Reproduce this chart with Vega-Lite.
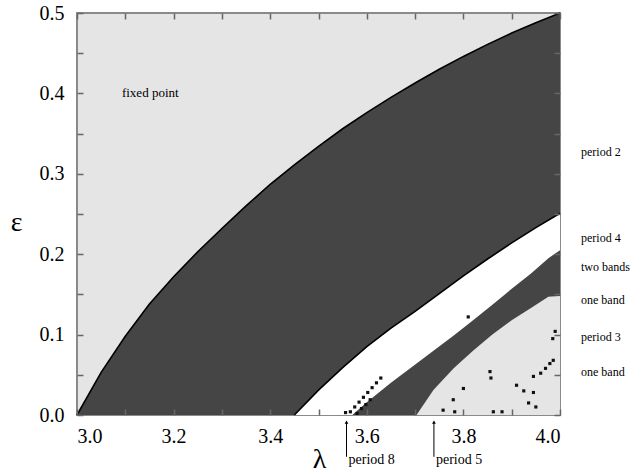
{
  "$schema": "https://vega.github.io/schema/vega-lite/v6.json",
  "width": 483,
  "height": 402,
  "autosize": "none",
  "padding": {"left": 77, "top": 13, "right": 71, "bottom": 59},
  "background": "white",
  "config": {
    "view": {"fill": "#e5e5e5", "stroke": "#8a8a8a", "strokeWidth": 2},
    "font": "Liberation Serif",
    "axis": {"labelFont": "Liberation Serif", "titleFont": "Liberation Serif", "zindex": 1}
  },
  "datasets": {
    "upper": [
      {"lam": 3.00, "eps": 0.000}, {"lam": 3.05, "eps": 0.053}, {"lam": 3.10, "eps": 0.098},
      {"lam": 3.15, "eps": 0.138}, {"lam": 3.20, "eps": 0.172}, {"lam": 3.25, "eps": 0.203},
      {"lam": 3.30, "eps": 0.232}, {"lam": 3.35, "eps": 0.260}, {"lam": 3.40, "eps": 0.287},
      {"lam": 3.45, "eps": 0.311}, {"lam": 3.50, "eps": 0.334}, {"lam": 3.55, "eps": 0.356},
      {"lam": 3.60, "eps": 0.376}, {"lam": 3.65, "eps": 0.395}, {"lam": 3.70, "eps": 0.413},
      {"lam": 3.75, "eps": 0.430}, {"lam": 3.80, "eps": 0.446}, {"lam": 3.85, "eps": 0.461},
      {"lam": 3.90, "eps": 0.475}, {"lam": 3.95, "eps": 0.488}, {"lam": 4.00, "eps": 0.500}
    ],
    "lower": [
      {"lam": 3.45, "eps": 0.000}, {"lam": 3.50, "eps": 0.031}, {"lam": 3.55, "eps": 0.059},
      {"lam": 3.60, "eps": 0.085}, {"lam": 3.65, "eps": 0.108}, {"lam": 3.70, "eps": 0.129},
      {"lam": 3.75, "eps": 0.151}, {"lam": 3.80, "eps": 0.173}, {"lam": 3.85, "eps": 0.194},
      {"lam": 3.90, "eps": 0.214}, {"lam": 3.95, "eps": 0.233}, {"lam": 4.00, "eps": 0.251}
    ],
    "band": [
      {"lam": 3.570, "lo": 0.000, "hi": 0.000}, {"lam": 3.600, "lo": 0.000, "hi": 0.016},
      {"lam": 3.650, "lo": 0.000, "hi": 0.040}, {"lam": 3.703, "lo": 0.000, "hi": 0.064},
      {"lam": 3.738, "lo": 0.031, "hi": 0.080}, {"lam": 3.780, "lo": 0.058, "hi": 0.099},
      {"lam": 3.820, "lo": 0.080, "hi": 0.118}, {"lam": 3.860, "lo": 0.100, "hi": 0.137},
      {"lam": 3.900, "lo": 0.118, "hi": 0.157}, {"lam": 3.940, "lo": 0.133, "hi": 0.176},
      {"lam": 3.976, "lo": 0.147, "hi": 0.195}, {"lam": 4.000, "lo": 0.148, "hi": 0.205}
    ],
    "dots": [
      {"lam": 3.556, "eps": 0.003}, {"lam": 3.566, "eps": 0.004}, {"lam": 3.575, "eps": 0.010},
      {"lam": 3.584, "eps": 0.016}, {"lam": 3.593, "eps": 0.022}, {"lam": 3.602, "eps": 0.028},
      {"lam": 3.611, "eps": 0.034}, {"lam": 3.620, "eps": 0.040}, {"lam": 3.629, "eps": 0.046},
      {"lam": 3.580, "eps": 0.002}, {"lam": 3.589, "eps": 0.008}, {"lam": 3.598, "eps": 0.013},
      {"lam": 3.607, "eps": 0.019},
      {"lam": 3.758, "eps": 0.006}, {"lam": 3.779, "eps": 0.019}, {"lam": 3.800, "eps": 0.033},
      {"lam": 3.782, "eps": 0.004}, {"lam": 3.855, "eps": 0.054}, {"lam": 3.857, "eps": 0.046},
      {"lam": 3.862, "eps": 0.004}, {"lam": 3.880, "eps": 0.004}, {"lam": 3.910, "eps": 0.037},
      {"lam": 3.925, "eps": 0.030}, {"lam": 3.945, "eps": 0.048}, {"lam": 3.960, "eps": 0.052},
      {"lam": 3.970, "eps": 0.058}, {"lam": 3.979, "eps": 0.064}, {"lam": 3.986, "eps": 0.068},
      {"lam": 3.945, "eps": 0.028}, {"lam": 3.935, "eps": 0.015}, {"lam": 3.950, "eps": 0.010},
      {"lam": 3.985, "eps": 0.095}, {"lam": 3.990, "eps": 0.104}, {"lam": 3.810, "eps": 0.122}
    ],
    "rightLabels": [
      {"lam": 4.0, "eps": 0.327, "text": "period 2"},
      {"lam": 4.0, "eps": 0.220, "text": "period 4"},
      {"lam": 4.0, "eps": 0.184, "text": "two bands"},
      {"lam": 4.0, "eps": 0.143, "text": "one band"},
      {"lam": 4.0, "eps": 0.097, "text": "period 3"},
      {"lam": 4.0, "eps": 0.053, "text": "one band"}
    ],
    "arrows": [
      {"lam": 3.558, "top": -0.009, "bottom": -0.052, "text": "period 8"},
      {"lam": 3.739, "top": -0.009, "bottom": -0.052, "text": "period 5"}
    ],
    "inner": [
      {"lam": 3.093, "eps": 0.400, "text": "fixed point"}
    ]
  },
  "resolve": {"axis": {"x": "independent", "y": "independent"}},
  "layer": [
    {
      "data": {"name": "upper"},
      "mark": {"type": "area", "color": "#454545"},
      "encoding": {
        "x": {"field": "lam", "type": "quantitative",
              "scale": {"domain": [3.0, 4.0], "nice": false, "zero": false},
              "axis": {
                "values": [3.0, 3.1, 3.2, 3.3, 3.4, 3.5, 3.6, 3.7, 3.8, 3.9, 4.0],
                "labelExpr": "abs(round(datum.value*5) - datum.value*5) < 0.01 ? format(datum.value, '.1f') : ''",
                "domain": false, "grid": false, "zindex": 1, "offset": -6,
                "tickColor": "#666", "tickSize": 6, "tickWidth": 1.5,
                "labelFont": "Liberation Serif", "labelFontSize": 20, "labelColor": "black",
                "labelPadding": 11,
                "title": "λ", "titleFont": "Liberation Serif", "titleFontSize": 28,
                "titleFontWeight": "normal", "titleColor": "black",
                "titleX": 242, "titleY": 58, "titleBaseline": "alphabetic", "titleAlign": "center"
              }},
        "y": {"field": "eps", "type": "quantitative",
              "scale": {"domain": [0, 0.5], "nice": false, "zero": false},
              "axis": {
                "values": [0, 0.05, 0.1, 0.15, 0.2, 0.25, 0.3, 0.35, 0.4, 0.45, 0.5],
                "labelExpr": "abs(round(datum.value*10) - datum.value*10) < 0.01 ? format(datum.value, '.1f') : ''",
                "domain": false, "grid": false, "zindex": 1, "offset": -6,
                "tickColor": "#666", "tickSize": 6, "tickWidth": 1.5,
                "labelFont": "Liberation Serif", "labelFontSize": 20, "labelColor": "black",
                "labelPadding": 13,
                "title": "ε", "titleFont": "Liberation Serif", "titleFontSize": 28,
                "titleFontWeight": "normal", "titleColor": "black", "titleAngle": 0,
                "titleX": -67, "titleY": 209, "titleBaseline": "middle", "titleAlign": "center"
              }},
        "y2": {"datum": 0}
      }
    },
    {
      "data": {"name": "lower"},
      "mark": {"type": "area", "color": "white"},
      "encoding": {
        "x": {"field": "lam", "type": "quantitative", "axis": null},
        "y": {"field": "eps", "type": "quantitative", "axis": null},
        "y2": {"datum": 0}
      }
    },
    {
      "data": {"name": "band"},
      "mark": {"type": "area", "color": "#e5e5e5"},
      "encoding": {
        "x": {"field": "lam", "type": "quantitative", "axis": null},
        "y": {"field": "lo", "type": "quantitative", "axis": null},
        "y2": {"datum": 0}
      }
    },
    {
      "data": {"name": "band"},
      "mark": {"type": "area", "color": "#454545"},
      "encoding": {
        "x": {"field": "lam", "type": "quantitative", "axis": null},
        "y": {"field": "lo", "type": "quantitative", "axis": null},
        "y2": {"field": "hi"}
      }
    },
    {
      "data": {"name": "dots"},
      "mark": {"type": "point", "shape": "square", "filled": true, "color": "#111", "size": 10, "opacity": 1},
      "encoding": {
        "x": {"field": "lam", "type": "quantitative", "axis": null},
        "y": {"field": "eps", "type": "quantitative", "axis": null}
      }
    },
    {
      "data": {"name": "upper"},
      "mark": {"type": "line", "color": "black", "strokeWidth": 1.6},
      "encoding": {
        "x": {"field": "lam", "type": "quantitative",
              "axis": {"orient": "top", "values": [3.0, 3.1, 3.2, 3.3, 3.4, 3.5, 3.6, 3.7, 3.8, 3.9, 4.0],
                       "labels": false, "domain": false, "grid": false, "title": null, "zindex": 1, "offset": -6,
                       "tickColor": "#666", "tickSize": 6, "tickWidth": 1.5}},
        "y": {"field": "eps", "type": "quantitative",
              "axis": {"orient": "right", "values": [0, 0.05, 0.1, 0.15, 0.2, 0.25, 0.3, 0.35, 0.4, 0.45, 0.5],
                       "labels": false, "domain": false, "grid": false, "title": null, "zindex": 1, "offset": -6,
                       "tickColor": "#666", "tickSize": 6, "tickWidth": 1.5}}
      }
    },
    {
      "data": {"name": "lower"},
      "mark": {"type": "line", "color": "black", "strokeWidth": 1.6},
      "encoding": {
        "x": {"field": "lam", "type": "quantitative", "axis": null},
        "y": {"field": "eps", "type": "quantitative", "axis": null}
      }
    },
    {
      "data": {"name": "arrows"},
      "mark": {"type": "rule", "color": "black", "strokeWidth": 1, "clip": false},
      "encoding": {
        "x": {"field": "lam", "type": "quantitative", "axis": null},
        "y": {"field": "top", "type": "quantitative", "axis": null},
        "y2": {"field": "bottom"}
      }
    },
    {
      "data": {"name": "arrows"},
      "mark": {"type": "point", "shape": "triangle-up", "filled": true, "color": "black", "size": 14, "opacity": 1, "clip": false},
      "encoding": {
        "x": {"field": "lam", "type": "quantitative", "axis": null},
        "y": {"field": "top", "type": "quantitative", "axis": null}
      }
    },
    {
      "data": {"name": "arrows"},
      "mark": {"type": "text", "align": "left", "baseline": "middle", "dx": 2, "dy": 3, "fontSize": 14, "font": "Liberation Serif", "color": "black", "clip": false},
      "encoding": {
        "x": {"field": "lam", "type": "quantitative", "axis": null},
        "y": {"field": "bottom", "type": "quantitative", "axis": null},
        "text": {"field": "text"}
      }
    },
    {
      "data": {"name": "rightLabels"},
      "mark": {"type": "text", "align": "left", "baseline": "middle", "dx": 21, "fontSize": 12, "font": "Liberation Serif", "color": "black", "clip": false},
      "encoding": {
        "x": {"field": "lam", "type": "quantitative", "axis": null},
        "y": {"field": "eps", "type": "quantitative", "axis": null},
        "text": {"field": "text"}
      }
    },
    {
      "data": {"name": "inner"},
      "mark": {"type": "text", "align": "left", "baseline": "middle", "fontSize": 13, "font": "Liberation Serif", "color": "black"},
      "encoding": {
        "x": {"field": "lam", "type": "quantitative", "axis": null},
        "y": {"field": "eps", "type": "quantitative", "axis": null},
        "text": {"field": "text"}
      }
    }
  ]
}
